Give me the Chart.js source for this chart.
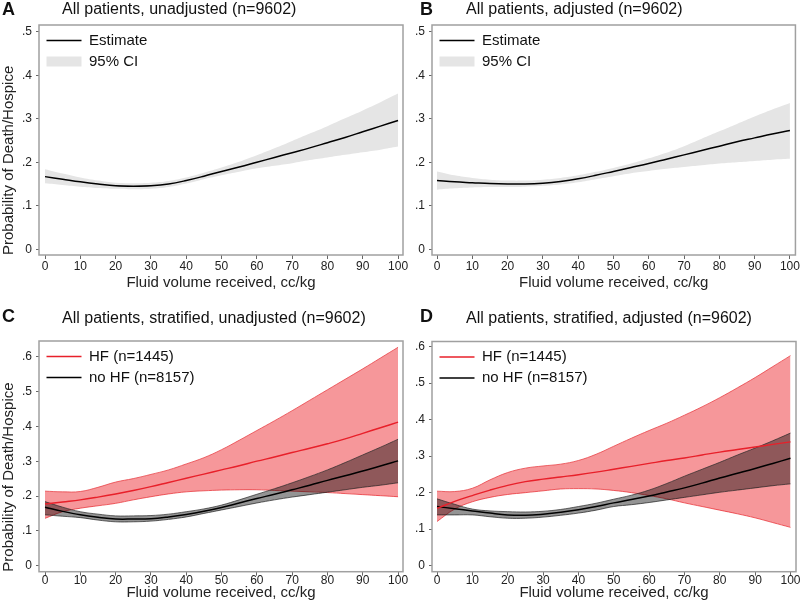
<!DOCTYPE html>
<html><head><meta charset="utf-8">
<script src="https://cdn.jsdelivr.net/npm/chart.js@4.4.1/dist/chart.umd.min.js"></script>
<style>
html,body{margin:0;padding:0;background:#fff;width:800px;height:606px;overflow:hidden;position:relative;}
canvas{position:absolute;}
.lt{position:absolute;font-family:'Liberation Sans',Arial,sans-serif;font-weight:bold;font-size:18px;line-height:18px;color:#111;}
.tt{position:absolute;font-family:'Liberation Sans',Arial,sans-serif;font-size:16px;line-height:16px;color:#111;white-space:nowrap;}
</style></head><body>
<canvas id="cA" width="410" height="300" style="left:0;top:0"></canvas>
<canvas id="cB" width="400" height="300" style="left:400px;top:0"></canvas>
<canvas id="cC" width="410" height="306" style="left:0;top:300px"></canvas>
<canvas id="cD" width="400" height="306" style="left:400px;top:300px"></canvas>
<div class="lt" style="left:2px;top:0px">A</div>
<div class="tt" id="tA" style="left:62px;top:1px"></div>
<div class="lt" style="left:420px;top:0px">B</div>
<div class="tt" id="tB" style="left:466px;top:1px"></div>
<div class="lt" style="left:2px;top:307px">C</div>
<div class="tt" id="tC" style="left:62px;top:310px"></div>
<div class="lt" style="left:420px;top:307px">D</div>
<div class="tt" id="tD" style="left:466px;top:310px"></div>
<script>
// ---------- data ----------
const xVals = [0,5,10,15,20,25,30,35,40,45,50,55,60,65,70,75,80,85,90,95,100];
const xTicks = [0,10,20,30,40,50,60,70,80,90,100];
const yTicksTop = [0,0.1,0.2,0.3,0.4,0.5];
const yTicksBottom = [0,0.1,0.2,0.3,0.4,0.5,0.6];

const panelTitles = [
  'All patients, unadjusted (n=9602)',
  'All patients, adjusted (n=9602)',
  'All patients, stratified, unadjusted (n=9602)',
  'All patients, stratified, adjusted (n=9602)'
];
const xTitle = 'Fluid volume received, cc/kg';
const yTitle = 'Probability of Death/Hospice';
const legendTop = ['Estimate', '95% CI'];
const legendBottom = ['HF (n=1445)', 'no HF (n=8157)'];

// Panel A
const aEst = [.167,.161,.155,.150,.146,.145,.146,.150,.158,.168,.179,.189,.200,.211,.222,.233,.245,.257,.270,.283,.296];
const aHi  = [.184,.174,.165,.158,.153,.152,.153,.157,.165,.176,.188,.201,.216,.232,.249,.266,.283,.301,.319,.338,.358];
const aLo  = [.152,.148,.144,.141,.139,.138,.139,.143,.151,.161,.170,.178,.186,.192,.198,.205,.211,.217,.223,.229,.236];
// Panel B
const bEst = [.158,.155,.153,.151,.150,.150,.152,.156,.162,.170,.179,.188,.197,.207,.217,.227,.237,.247,.256,.265,.273];
const bHi  = [.179,.170,.164,.160,.158,.158,.160,.164,.170,.178,.187,.197,.209,.222,.237,.254,.271,.288,.305,.321,.336];
const bLo  = [.137,.140,.142,.143,.143,.144,.146,.149,.154,.161,.168,.175,.180,.185,.189,.193,.197,.200,.203,.206,.208];
// Panel C
const cHfEst = [.177,.183,.189,.197,.206,.216,.227,.239,.251,.263,.275,.287,.300,.312,.325,.337,.350,.364,.380,.396,.412];
const cHfHi  = [.214,.212,.213,.225,.240,.250,.262,.275,.292,.310,.333,.360,.388,.416,.445,.475,.505,.535,.565,.596,.627];
const cHfLo  = [.136,.155,.165,.172,.179,.189,.198,.206,.212,.215,.217,.218,.218,.216,.214,.212,.210,.207,.204,.201,.198];
const cNoEst = [.168,.156,.146,.139,.134,.134,.135,.140,.147,.156,.167,.180,.193,.205,.218,.231,.245,.258,.272,.286,.301];
const cNoHi  = [.184,.168,.155,.148,.143,.143,.144,.148,.155,.163,.174,.189,.205,.221,.238,.256,.275,.296,.318,.340,.363];
const cNoLo  = [.146,.142,.138,.131,.126,.126,.128,.133,.140,.150,.160,.170,.180,.189,.197,.204,.211,.218,.225,.231,.238];
// Panel D
const dHfEst = [.157,.176,.192,.207,.220,.230,.237,.243,.249,.256,.264,.272,.280,.288,.295,.303,.311,.318,.325,.332,.339];
const dHfHi  = [.204,.203,.212,.235,.255,.267,.273,.278,.288,.305,.327,.349,.370,.390,.412,.435,.460,.487,.515,.545,.575];
const dHfLo  = [.121,.155,.175,.187,.195,.200,.205,.210,.211,.210,.206,.200,.192,.183,.172,.162,.152,.142,.131,.118,.105];
const dNoEst = [.162,.156,.150,.144,.139,.138,.141,.146,.153,.162,.172,.181,.191,.202,.213,.226,.240,.253,.266,.280,.294];
const dNoHi  = [.183,.168,.155,.150,.148,.147,.149,.154,.162,.171,.182,.193,.207,.225,.245,.264,.283,.303,.322,.342,.363];
const dNoLo  = [.139,.139,.139,.134,.130,.130,.133,.138,.144,.152,.162,.167,.173,.180,.187,.194,.201,.207,.213,.219,.224];

// ---------- rendering ----------
const FONT = "'Liberation Sans', Arial, sans-serif";
Chart.defaults.font.family = FONT;
['tA','tB','tC','tD'].forEach((id,i)=>{ document.getElementById(id).textContent = panelTitles[i]; });

const pts = ys => xVals.map((x,i)=>({x:x, y:ys[i]}));
const fmtY = v => v === 0 ? '0' : Number(v).toFixed(1).replace(/^0/, '');

const CI_GRAY = '#e5e5e5';
const RED = '#e8202a';
const RED_EDGE = '#e84347';
const RED_FILL = 'rgba(235,25,30,0.45)';
const BLK_FILL = 'rgba(0,0,0,0.42)';
const BLK_EDGE = '#2a2a2a';
const NONE = 'rgba(0,0,0,0)';

const frame = { id:'frame', afterDraw(chart){
  const a = chart.chartArea, c = chart.ctx;
  c.save(); c.strokeStyle = '#a0a0a0'; c.lineWidth = 1.5;
  c.strokeRect(a.left, a.top, a.right - a.left, a.bottom - a.top);
  c.restore();
}};
// place the legend inside the plot region, near its top-left corner
const legendShift = { id:'legendShift', afterLayout(chart){
  const l = chart.legend, a = chart.chartArea;
  if (l) { l.left = a.left + 1.5; l.right = a.right; l.top = a.top + 2; l.bottom = a.bottom; }
}};

function topDatasets(est, hi, lo){
  return [
    {label: legendTop[0], data: pts(est), borderColor:'#000', borderWidth:1.5, fill:false},
    {label: legendTop[1], data: pts(hi), borderColor:NONE, borderWidth:1, backgroundColor:CI_GRAY, fill:'+1'},
    {label: legendTop[1] + ' lower', data: pts(lo), borderColor:NONE, borderWidth:1, fill:false}
  ];
}
function bottomDatasets(hfEst, hfHi, hfLo, noEst, noHi, noLo){
  return [
    {label: legendBottom[0], data: pts(hfEst), borderColor:RED, borderWidth:1.4, fill:false},
    {label: legendBottom[1], data: pts(noEst), borderColor:'#000', borderWidth:1.5, fill:false},
    {label: 'no HF upper', data: pts(noHi), borderColor:BLK_EDGE, borderWidth:0.7, backgroundColor:BLK_FILL, fill:'+1'},
    {label: 'no HF lower', data: pts(noLo), borderColor:BLK_EDGE, borderWidth:0.7, fill:false},
    {label: 'HF upper', data: pts(hfHi), borderColor:RED_EDGE, borderWidth:0.8, backgroundColor:RED_FILL, fill:'+1'},
    {label: 'HF lower', data: pts(hfLo), borderColor:RED_EDGE, borderWidth:0.8, fill:false}
  ];
}
const legendItemsTop = [
  {text: legendTop[0], pointStyle:'line', strokeStyle:'#000', fillStyle:NONE, lineWidth:1.5, hidden:false, datasetIndex:0, fontColor:'#111'},
  {text: legendTop[1], pointStyle:'rect', strokeStyle:NONE, fillStyle:CI_GRAY, lineWidth:0, hidden:false, datasetIndex:1, fontColor:'#111'}
];
const legendItemsBottom = [
  {text: legendBottom[0], pointStyle:'line', strokeStyle:RED, fillStyle:NONE, lineWidth:1.4, hidden:false, datasetIndex:0, fontColor:'#111'},
  {text: legendBottom[1], pointStyle:'line', strokeStyle:'#000', fillStyle:NONE, lineWidth:1.5, hidden:false, datasetIndex:1, fontColor:'#111'}
];

function makeChart(id, p){
  return new Chart(document.getElementById(id), {
    type: 'line',
    data: { datasets: p.datasets },
    options: {
      responsive: false, animation: false, events: [],
      layout: { padding: p.pad },
      elements: { point: { radius: 0 }, line: { tension: 0.4 } },
      scales: {
        x: {
          type: 'linear', min: p.xMin, max: p.xMax,
          afterBuildTicks: s => { s.ticks = xTicks.map(v => ({value: v})); },
          afterFit: s => { s.height = p.xH; },
          grid: { display: true, drawOnChartArea: false, drawTicks: true, tickLength: 4, color: '#666', lineWidth: 1 },
          border: { display: false },
          ticks: { color: '#222', font: { size: 12 }, padding: p.xPad, maxRotation: 0, autoSkip: false },
          title: { display: true, text: xTitle, color: '#222', font: { size: 15 }, padding: 0 }
        },
        y: {
          type: 'linear', min: p.yMin, max: p.yMax,
          afterBuildTicks: s => { s.ticks = p.yTicks.map(v => ({value: v})); },
          afterFit: s => { s.width = p.yW; },
          grid: { display: true, drawOnChartArea: false, drawTicks: true, tickLength: 3, color: '#666', lineWidth: 1 },
          border: { display: false },
          ticks: { color: '#222', font: { size: 12 }, padding: 4, autoSkip: false, callback: v => fmtY(v) },
          title: { display: p.yTitle, text: yTitle, align: 'start', color: '#222', font: { size: 15 }, padding: 0 }
        }
      },
      plugins: {
        legend: {
          position: 'chartArea', align: 'start',
          labels: { usePointStyle: true, pointStyleWidth: 35, boxHeight: 10, padding: 6, color: '#111',
                    font: { size: 15 }, generateLabels: () => p.legend }
        },
        tooltip: { enabled: false }
      }
    },
    plugins: [frame, legendShift]
  });
}

makeChart('cA', { datasets: topDatasets(aEst, aHi, aLo), legend: legendItemsTop,
  pad: {left:0, top:25, right:7, bottom:8.3}, xH: 36.7, yW: 39, xPad: 0, yTitle: true,
  xMin: -1.7, xMax: 101.4, yMin: -0.0131, yMax: 0.5154, yTicks: yTicksTop });
makeChart('cB', { datasets: topDatasets(bEst, bHi, bLo), legend: legendItemsTop,
  pad: {left:0, top:25, right:4, bottom:8.3}, xH: 36.7, yW: 32, xPad: 0, yTitle: false,
  xMin: -1.42, xMax: 101.56, yMin: -0.0131, yMax: 0.5154, yTicks: yTicksTop });
makeChart('cC', { datasets: bottomDatasets(cHfEst, cHfHi, cHfLo, cNoEst, cNoHi, cNoLo), legend: legendItemsBottom,
  pad: {left:0, top:41, right:7, bottom:4.5}, xH: 29.8, yW: 39, xPad: -2, yTitle: true,
  xMin: -1.7, xMax: 101.4, yMin: -0.0172, yMax: 0.645, yTicks: yTicksBottom });
makeChart('cD', { datasets: bottomDatasets(dHfEst, dHfHi, dHfLo, dNoEst, dNoHi, dNoLo), legend: legendItemsBottom,
  pad: {left:0, top:41.5, right:4, bottom:4.5}, xH: 29.8, yW: 32, xPad: -2, yTitle: false,
  xMin: -1.42, xMax: 101.56, yMin: -0.0164, yMax: 0.6137, yTicks: yTicksBottom });
</script>
</body></html>
